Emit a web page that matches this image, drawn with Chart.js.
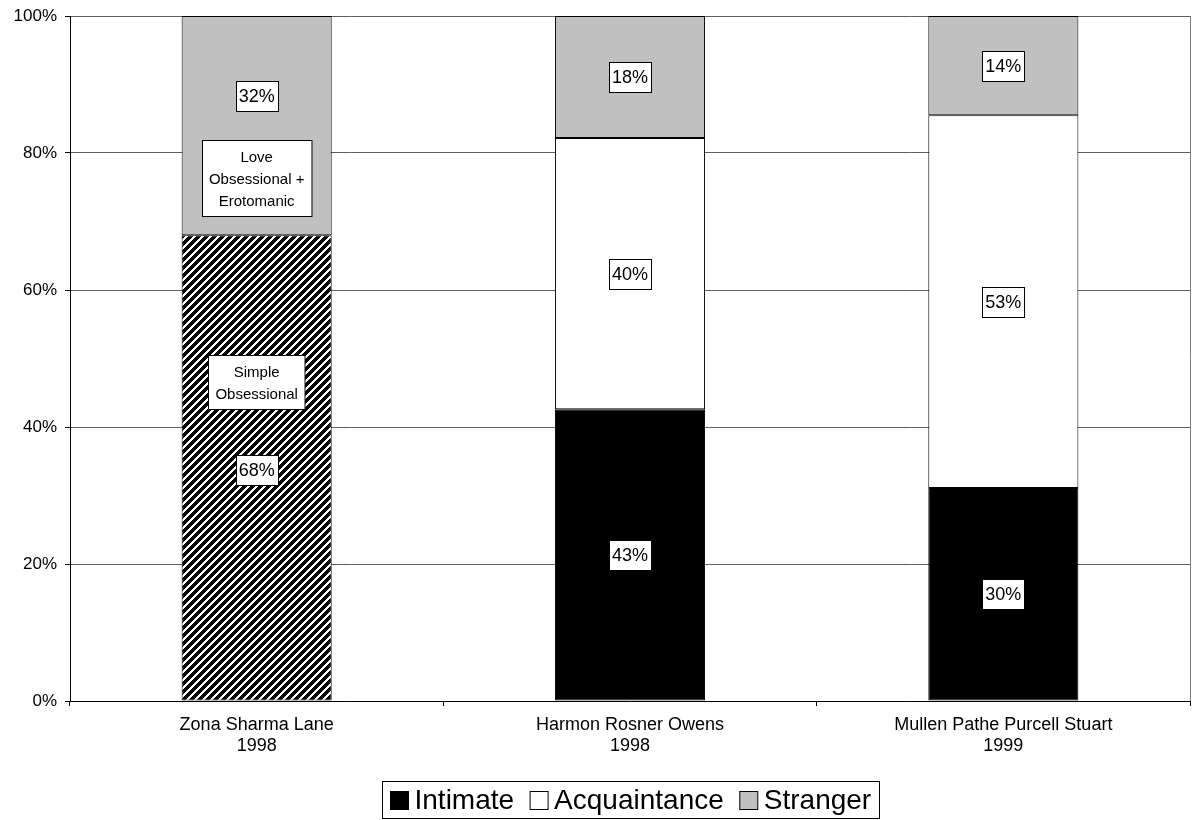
<!DOCTYPE html>
<html>
<head>
<meta charset="utf-8">
<script src="https://cdn.jsdelivr.net/npm/chart.js@4.4.1/dist/chart.umd.min.js"></script>
<style>
  html, body { margin: 0; padding: 0; background: #fff; }
  #chart { display: block; }
</style>
</head>
<body>
<canvas id="chart" width="1196" height="820"></canvas>
<script>
// Stalker relationship study chart
const categories = [['Zona Sharma Lane', '1998'], ['Harmon Rosner Owens', '1998'], ['Mullen Pathe Purcell Stuart', '1999']];
const simpleObsessional = [68, null, null];
const loveErotomanic = [32, null, null];
const intimate = [null, 42.6, 31.1];
const acquaintance = [null, 39.6, 54.4];
const stranger = [null, 17.8, 14.5];

const intimateLabels = ['', '43%', '30%'];
const acquaintanceLabels = ['', '40%', '53%'];
const strangerLabels = ['', '18%', '14%'];

// notes on the first bar: [text lines, value position on the y axis]
const firstBarNotes = [
    [['32%'], 88.3],
    [['Love', 'Obsessional +', 'Erotomanic'], 76.4],
    [['Simple', 'Obsessional'], 46.5],
    [['68%'], 33.7]
];

const yTicks = [0, 20, 40, 60, 80, 100];
const legendItems = ['Intimate', 'Acquaintance', 'Stranger'];

const FONT = '"Liberation Sans", Arial, sans-serif';
const GRAY = '#c0c0c0';

function makeHatch() {
    const c = document.createElement('canvas');
    c.width = 8; c.height = 8;
    const g = c.getContext('2d');
    g.fillStyle = '#fff';
    g.fillRect(0, 0, 8, 8);
    g.fillStyle = '#000';
    for (let x = 0; x < 8; x++)
        for (let y = 0; y < 8; y++)
            if ((x + y) % 8 < 5) g.fillRect(x, y, 1, 1);
    return g.createPattern(c, 'repeat');
}

function labelBox(ctx, lines, cx, cy, size, lineH, padX, padY) {
    ctx.font = `${size}px ${FONT}`;
    const w = Math.max(...lines.map(l => ctx.measureText(l).width)) + padX * 2;
    const h = lines.length * lineH + padY * 2;
    const x = Math.round(cx - w / 2) + 0.5, y = Math.round(cy - h / 2) + 0.5;
    ctx.fillStyle = '#fff';
    ctx.fillRect(x, y, w, h);
    ctx.strokeStyle = '#000';
    ctx.lineWidth = 1;
    ctx.strokeRect(x, y, w, h);
    ctx.fillStyle = '#000';
    ctx.textAlign = 'center';
    ctx.textBaseline = 'middle';
    lines.forEach((l, i) => ctx.fillText(l, cx, y + padY + lineH * (i + 0.5) + 1));
}

const extrasPlugin = {
    id: 'extras',
    afterDatasetsDraw(chart) {
        const ctx = chart.ctx;
        const area = chart.chartArea;
        const yScale = chart.scales.y;
        ctx.save();
        // right border of plot area
        ctx.strokeStyle = '#808080';
        ctx.lineWidth = 1;
        ctx.beginPath();
        ctx.moveTo(area.right + 0.5, area.top);
        ctx.lineTo(area.right + 0.5, area.bottom);
        ctx.stroke();

        // centered value labels
        chart.data.datasets.forEach((ds, di) => {
            if (!ds.valueLabels) return;
            chart.getDatasetMeta(di).data.forEach((el, i) => {
                const t = ds.valueLabels[i];
                if (!t) return;
                labelBox(ctx, [t], el.x, (el.y + el.base) / 2, 18, 22, 3, 4);
            });
        });

        // notes on first bar
        const firstX = chart.getDatasetMeta(0).data[0].x;
        firstBarNotes.forEach(([lines, v]) => {
            const pos = yScale.getPixelForValue(v);
            if (lines.length === 1) labelBox(ctx, lines, firstX, pos, 18, 22, 3, 4);
            else labelBox(ctx, lines, firstX, pos, 15, 22, 7, 5);
        });

        // legend with frame
        const size = 28, sq = 18, gapIn = 6, gapOut = 16, pad = 8;
        ctx.font = `${size}px ${FONT}`;
        const fills = ['#000', '#fff', GRAY];
        let total = pad * 2;
        legendItems.forEach((t, i) => {
            total += sq + gapIn + ctx.measureText(t).width + (i < legendItems.length - 1 ? gapOut : 0);
        });
        const cx = (area.left + area.right) / 2;
        let x = Math.round(cx - total / 2) + 0.5;
        const top = 781.5, h = 37;
        ctx.strokeStyle = '#000';
        ctx.strokeRect(x, top, Math.round(total), h);
        x += pad;
        ctx.textAlign = 'left';
        ctx.textBaseline = 'middle';
        legendItems.forEach((t, i) => {
            const sy = Math.round(top + h / 2 - sq / 2) + 0.5;
            ctx.fillStyle = fills[i];
            ctx.fillRect(x, sy, sq, sq);
            ctx.strokeStyle = '#000';
            ctx.strokeRect(x, sy, sq, sq);
            x += sq + gapIn;
            ctx.fillStyle = '#000';
            ctx.fillText(t, x, top + h / 2 + 1);
            x += ctx.measureText(t).width + gapOut;
        });
        ctx.restore();
    }
};

const hatch = makeHatch();
const barOpts = { borderColor: '#000', borderWidth: 1, borderSkipped: false, barPercentage: 0.402, categoryPercentage: 1 };

new Chart(document.getElementById('chart'), {
    type: 'bar',
    data: {
        labels: categories,
        datasets: [
            { label: 'Simple Obsessional', data: simpleObsessional, backgroundColor: hatch, ...barOpts },
            { label: 'Intimate', data: intimate, backgroundColor: '#000', valueLabels: intimateLabels, ...barOpts },
            { label: 'Acquaintance', data: acquaintance, backgroundColor: '#fff', valueLabels: acquaintanceLabels, ...barOpts },
            { label: 'Love Obsessional + Erotomanic', data: loveErotomanic, backgroundColor: GRAY, ...barOpts },
            { label: 'Stranger', data: stranger, backgroundColor: GRAY, valueLabels: strangerLabels, ...barOpts }
        ]
    },
    options: {
        responsive: false,
        animation: false,
        devicePixelRatio: 1,
        layout: { padding: { top: 16, right: 6, left: 0, bottom: 0 } },
        plugins: { legend: { display: false }, tooltip: { enabled: false } },
        scales: {
            x: {
                stacked: true,
                afterFit: s => { s.height = 119; },
                grid: { offset: true, drawOnChartArea: false, drawTicks: true, tickLength: 5, tickColor: '#000' },
                border: { color: '#000', width: 1 },
                ticks: { color: '#000', font: { family: FONT, size: 18 }, padding: 8, maxRotation: 0 }
            },
            y: {
                stacked: true,
                min: 0,
                max: 100,
                afterFit: s => { s.width = 70; s.paddingTop = 0; s.paddingBottom = 0; },
                afterBuildTicks: s => { s.ticks = yTicks.map(v => ({ value: v })); },
                grid: { color: '#606060', tickColor: '#000', tickLength: 5 },
                border: { color: '#000', width: 1 },
                ticks: { color: '#000', font: { family: FONT, size: 17 }, padding: 8, callback: v => v + '%' }
            }
        }
    },
    plugins: [extrasPlugin]
});
</script>
</body>
</html>
